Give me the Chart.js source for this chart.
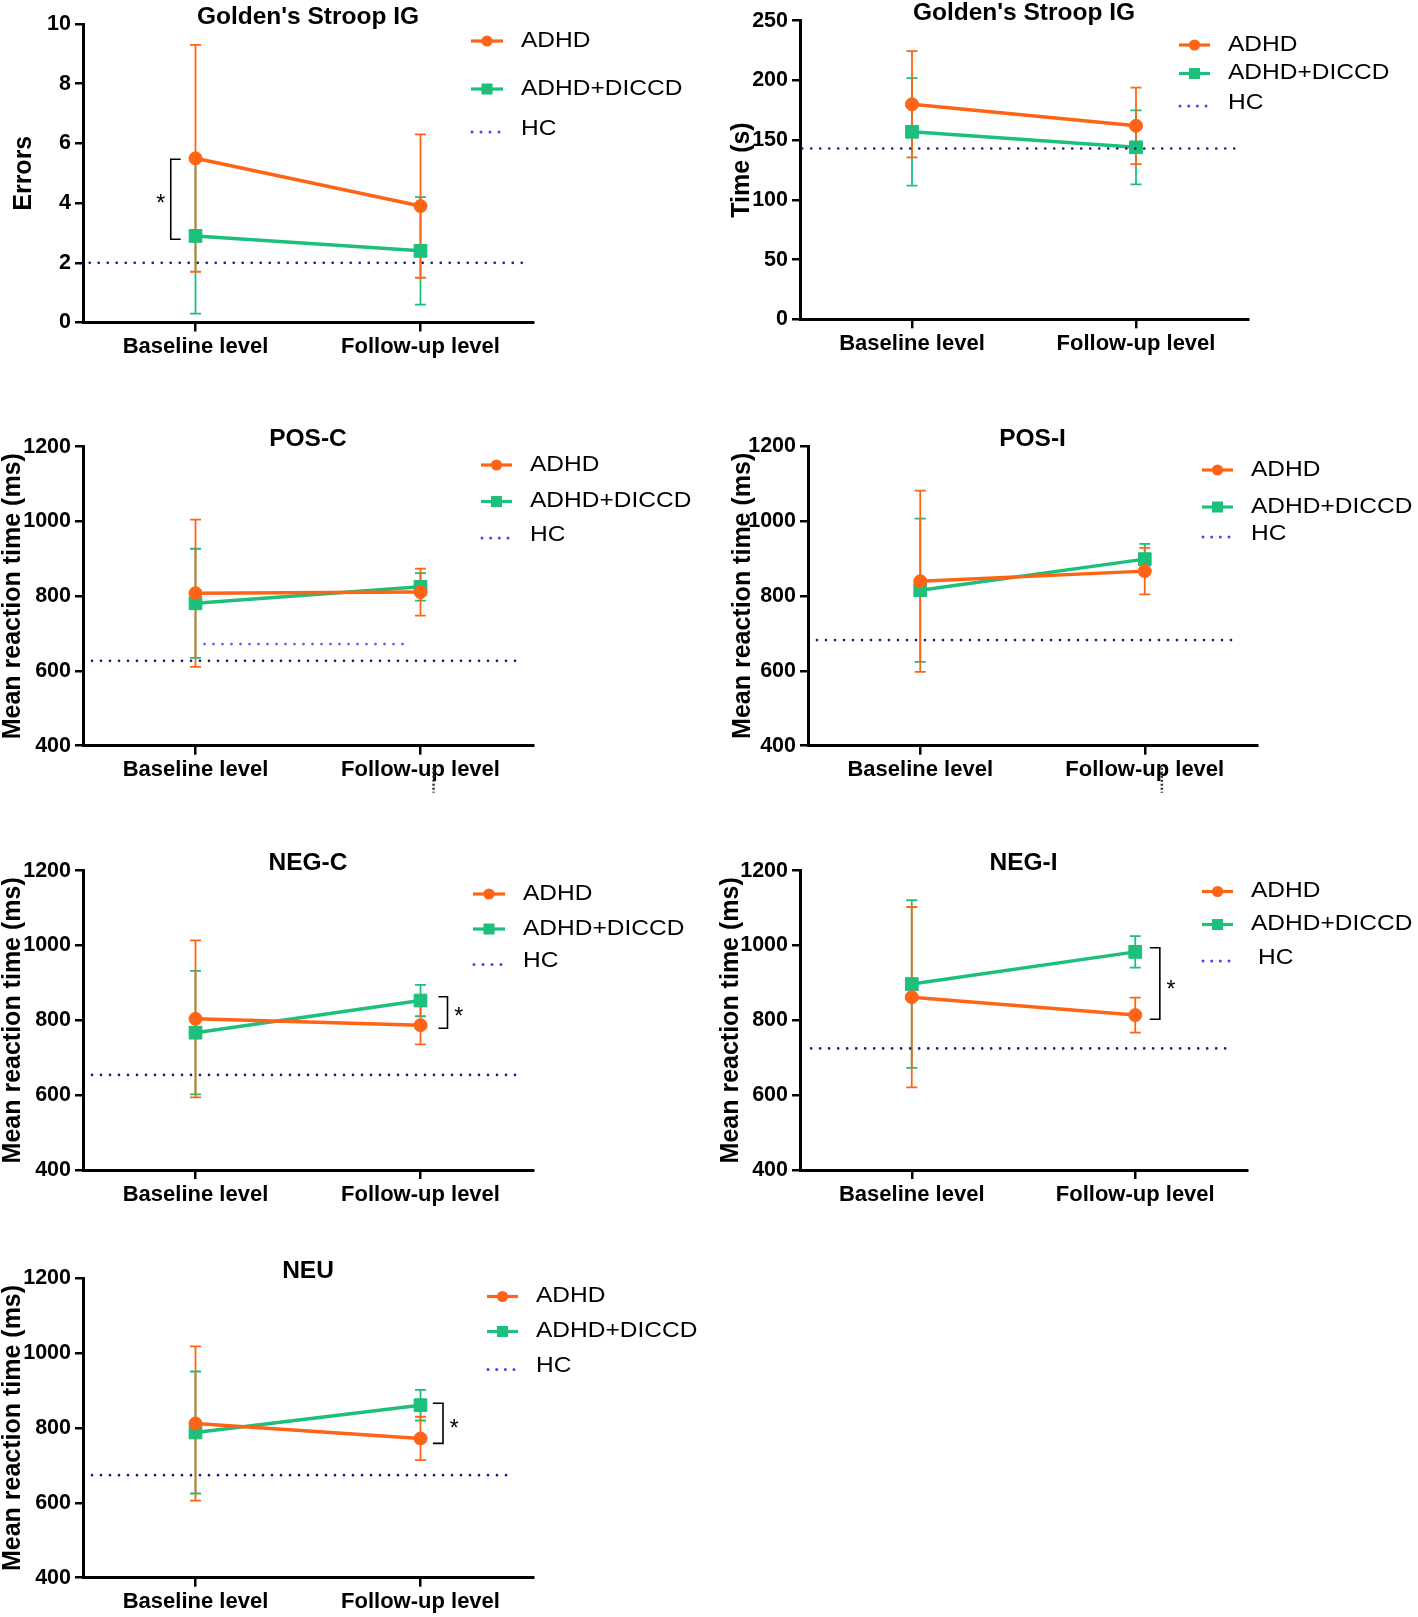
<!DOCTYPE html>
<html>
<head>
<meta charset="utf-8">
<script src="https://cdn.jsdelivr.net/npm/chart.js@4.4.0/dist/chart.umd.min.js"></script>
<style>
  html, body { margin: 0; padding: 0; background: #ffffff; }
  body { width: 1418px; height: 1617px; position: relative; overflow: hidden; }
  .panel { position: absolute; }
  .panel canvas { display: block; }
</style>
</head>
<body>
<div class="panel" id="p1"><canvas></canvas></div>
<div class="panel" id="p2"><canvas></canvas></div>
<div class="panel" id="p3"><canvas></canvas></div>
<div class="panel" id="p4"><canvas></canvas></div>
<div class="panel" id="p5"><canvas></canvas></div>
<div class="panel" id="p6"><canvas></canvas></div>
<div class="panel" id="p7"><canvas></canvas></div>
<script>
// ---------------- DATA ----------------
const xLabels = ['Baseline level', 'Follow-up level'];
const seriesNames = ['ADHD', 'ADHD+DICCD', 'HC'];

// Golden's Stroop IG - Errors
const stroopErrTicks = [0, 2, 4, 6, 8, 10];
const stroopErrADHD = [5.5, 3.9];
const stroopErrADHDsd = [3.8, 2.4];
const stroopErrDICCD = [2.9, 2.4];
const stroopErrDICCDsd = [2.6, 1.8];
const stroopErrHC = 2.0;

// Golden's Stroop IG - Time (s)
const stroopTimeTicks = [0, 50, 100, 150, 200, 250];
const stroopTimeADHD = [180, 162];
const stroopTimeADHDsd = [44.5, 32];
const stroopTimeDICCD = [157, 144];
const stroopTimeDICCDsd = [45, 31];
const stroopTimeHC = 143;

// Mean reaction time ticks (ms)
const rtTicks = [400, 600, 800, 1000, 1200];

// POS-C
const posCADHD = [808, 811];
const posCADHDsd = [197, 63];
const posCDICCD = [781, 825];
const posCDICCDsd = [146, 37];
const posCHC = 627;
const posCHCextra = 672;

// POS-I
const posIADHD = [839, 866];
const posIADHDsd = [242, 62];
const posIDICCD = [815, 898];
const posIDICCDsd = [191, 41];
const posIHC = 682;

// NEG-C
const negCADHD = [804, 787];
const negCADHDsd = [210, 51];
const negCDICCD = [767, 853];
const negCDICCDsd = [165, 42];
const negCHC = 654;

// NEG-I
const negIADHD = [862, 814];
const negIADHDsd = [241, 47];
const negIDICCD = [897, 983];
const negIDICCDsd = [224, 42];
const negIHC = 725;

// NEU
const neuADHD = [812, 772];
const neuADHDsd = [206, 58];
const neuDICCD = [788, 861];
const neuDICCDsd = [163, 41];
const neuHC = 674;

// ---------------- STYLE / LAYOUT ----------------
const FONT = '"Liberation Sans", Arial, Helvetica, sans-serif';
const ORANGE = '#FF6416';
const GREEN = '#1CBF7B';
const NAVY = '#1B1B86';
const HC_LEGEND = '#4646F2';
const LIGHT_BLUE = '#5B5BF2';
const XH = 38;

const panels = [
  { id: 'p1', box: [0, 0, 709, 400], area: [83, 24, 533, 322.5],
    title: "Golden's Stroop IG", yTitle: 'Errors', yTitlePad: 12, yTicks: stroopErrTicks,
    adhd: stroopErrADHD, adhdSd: stroopErrADHDsd, diccd: stroopErrDICCD, diccdSd: stroopErrDICCDsd,
    hc: stroopErrHC, hcSpan: [-0.47, 1.46],
    legend: { lx0: 471, lx1: 503, tx: 521, hcTx: 521, ys: [41, 89, 129] },
    bracket: { x: -0.11, arm: -0.066, y1: 5.47, y2: 2.79, starX: -0.155, starY: 4.13 } },
  { id: 'p2', box: [709, 0, 709, 400], area: [800, 20.7, 1248, 319.3],
    title: "Golden's Stroop IG", yTitle: 'Time (s)', yTitlePad: 20.5, yTicks: stroopTimeTicks,
    adhd: stroopTimeADHD, adhdSd: stroopTimeADHDsd, diccd: stroopTimeDICCD, diccdSd: stroopTimeDICCDsd,
    hc: stroopTimeHC, hcSpan: [-0.49, 1.44],
    legend: { lx0: 1179, lx1: 1210, tx: 1228, hcTx: 1228, ys: [45, 73.5, 103] } },
  { id: 'p3', box: [0, 405, 709, 405], area: [83, 446.7, 533, 745.7],
    title: 'POS-C', yTitle: 'Mean reaction time (ms)', yTitlePad: 0.5, yTicks: rtTicks,
    adhd: posCADHD, adhdSd: posCADHDsd, diccd: posCDICCD, diccdSd: posCDICCDsd,
    hc: posCHC, hcSpan: [-0.46, 1.45], extraHC: posCHCextra, extraSpan: [0.04, 0.96],
    legend: { lx0: 481, lx1: 512, tx: 530, hcTx: 530, ys: [465, 501.5, 535] },
    artifactX: 1.058 },
  { id: 'p4', box: [709, 405, 709, 405], area: [808, 446, 1257, 745.7],
    title: 'POS-I', yTitle: 'Mean reaction time (ms)', yTitlePad: 21.5, yTicks: rtTicks,
    adhd: posIADHD, adhdSd: posIADHDsd, diccd: posIDICCD, diccdSd: posIDICCDsd,
    hc: posIHC, hcSpan: [-0.46, 1.41],
    legend: { lx0: 1202, lx1: 1233, tx: 1251, hcTx: 1251, ys: [470, 507, 534] },
    artifactX: 1.076 },
  { id: 'p5', box: [0, 815, 709, 400], area: [83, 870.7, 533, 1170],
    title: 'NEG-C', yTitle: 'Mean reaction time (ms)', yTitlePad: 0.5, yTicks: rtTicks,
    adhd: negCADHD, adhdSd: negCADHDsd, diccd: negCDICCD, diccdSd: negCDICCDsd,
    hc: negCHC, hcSpan: [-0.46, 1.46],
    legend: { lx0: 473, lx1: 505, tx: 523, hcTx: 523, ys: [894, 929, 961.5] },
    bracket: { x: 1.12, arm: 1.08, y1: 863, y2: 779, starX: 1.17, starY: 820 } },
  { id: 'p6', box: [709, 815, 709, 400], area: [800, 870.7, 1247, 1170],
    title: 'NEG-I', yTitle: 'Mean reaction time (ms)', yTitlePad: 9.5, yTicks: rtTicks,
    adhd: negIADHD, adhdSd: negIADHDsd, diccd: negIDICCD, diccdSd: negIDICCDsd,
    hc: negIHC, hcSpan: [-0.45, 1.44],
    legend: { lx0: 1202, lx1: 1233, tx: 1251, hcTx: 1258, ys: [891.5, 924.5, 958] },
    bracket: { x: 1.11, arm: 1.065, y1: 994, y2: 803, starX: 1.16, starY: 893 } },
  { id: 'p7', box: [0, 1225, 709, 392], area: [83, 1278.3, 533, 1577.7],
    title: 'NEU', yTitle: 'Mean reaction time (ms)', yTitlePad: 1, yTicks: rtTicks,
    adhd: neuADHD, adhdSd: neuADHDsd, diccd: neuDICCD, diccdSd: neuDICCDsd,
    hc: neuHC, hcSpan: [-0.46, 1.40],
    legend: { lx0: 487, lx1: 518, tx: 536, hcTx: 536, ys: [1296.5, 1331.5, 1366.5] },
    bracket: { x: 1.10, arm: 1.055, y1: 866, y2: 759, starX: 1.15, starY: 808 } }
];

const panelById = {};
panels.forEach(p => { panelById[p.id] = p; });

function pts(vals) {
  return xLabels.map((_, i) => ({ x: i, y: vals[i] }));
}

// ---------------- PLUGIN ----------------
const decorPlugin = {
  id: 'decor',
  beforeDatasetsDraw(chart) {
    const ctx = chart.ctx;
    const xs = chart.scales.x, ys = chart.scales.y;
    // error bars (green first, orange on top)
    [1, 0].forEach(i => {
      const d = chart.data.datasets[i];
      ctx.save();
      ctx.strokeStyle = d.borderColor;
      ctx.lineWidth = 1.8;
      d.data.forEach((pt, k) => {
        const px = xs.getPixelForValue(pt.x);
        const top = ys.getPixelForValue(pt.y + d.sd[k]);
        const bot = ys.getPixelForValue(pt.y - d.sd[k]);
        ctx.beginPath();
        ctx.moveTo(px, top); ctx.lineTo(px, bot);
        ctx.moveTo(px - 5.5, top); ctx.lineTo(px + 5.5, top);
        ctx.moveTo(px - 5.5, bot); ctx.lineTo(px + 5.5, bot);
        ctx.stroke();
      });
      ctx.restore();
    });
  },
  afterDraw(chart) {
    const p = panelById[chart.canvas.parentNode.id];
    const ctx = chart.ctx;
    const xs = chart.scales.x, ys = chart.scales.y;
    const ca = chart.chartArea;
    const ox = p.box[0], oy = p.box[1];

    // title
    ctx.save();
    ctx.font = 'bold 24.5px ' + FONT;
    ctx.fillStyle = '#000';
    ctx.textAlign = 'center';
    ctx.textBaseline = 'alphabetic';
    ctx.fillText(p.title, (ca.left + ca.right) / 2, ca.top - 0.5);
    ctx.restore();

    // legend
    const L = p.legend;
    const x0 = L.lx0 - ox, x1 = L.lx1 - ox, xm = (x0 + x1) / 2;
    const colors = [ORANGE, GREEN];
    for (let i = 0; i < 2; i++) {
      const y = L.ys[i] - oy;
      ctx.save();
      ctx.strokeStyle = colors[i];
      ctx.fillStyle = colors[i];
      ctx.lineWidth = 3.2;
      ctx.beginPath(); ctx.moveTo(x0, y); ctx.lineTo(x1, y); ctx.stroke();
      if (i === 0) {
        ctx.beginPath(); ctx.arc(xm, y, 5.6, 0, Math.PI * 2); ctx.fill();
      } else {
        ctx.fillRect(xm - 5.5, y - 5.5, 11, 11);
      }
      ctx.restore();
    }
    // HC legend dots
    ctx.save();
    ctx.fillStyle = HC_LEGEND;
    const hy = L.ys[2] - oy + 3;
    for (let k = 0; k < 4; k++) {
      const dx = x0 + 1 + k * ((x1 - x0 - 5) / 3);
      ctx.beginPath(); ctx.arc(dx, hy, 1.5, 0, Math.PI * 2); ctx.fill();
    }
    ctx.restore();
    // legend text
    for (let i = 0; i < 3; i++) {
      ctx.save();
      ctx.font = '21.5px ' + FONT;
      ctx.fillStyle = '#000';
      ctx.textAlign = 'left';
      ctx.textBaseline = 'middle';
      const tx = (i === 2 ? L.hcTx : L.tx) - ox;
      ctx.translate(tx, L.ys[i] - oy);
      ctx.scale(1.14, 1);
      ctx.fillText(seriesNames[i], 0, 0);
      ctx.restore();
    }

    // significance bracket
    if (p.bracket) {
      const b = p.bracket;
      const bx = xs.getPixelForValue(b.x), ax = xs.getPixelForValue(b.arm);
      const y1 = ys.getPixelForValue(b.y1), y2 = ys.getPixelForValue(b.y2);
      ctx.save();
      ctx.strokeStyle = '#000';
      ctx.lineWidth = 1.6;
      ctx.beginPath();
      ctx.moveTo(ax, y1); ctx.lineTo(bx, y1); ctx.lineTo(bx, y2); ctx.lineTo(ax, y2);
      ctx.stroke();
      ctx.font = '23px ' + FONT;
      ctx.fillStyle = '#000';
      ctx.textAlign = 'center';
      ctx.textBaseline = 'middle';
      ctx.fillText('*', xs.getPixelForValue(b.starX), ys.getPixelForValue(b.starY) + 5);
      ctx.restore();
    }

    // small dotted scan artifact under the follow-up label
    if (p.artifactX !== undefined) {
      const ax = xs.getPixelForValue(p.artifactX);
      ctx.save();
      ctx.strokeStyle = '#333';
      ctx.lineWidth = 2.5;
      ctx.setLineDash([2, 2]);
      ctx.beginPath();
      ctx.moveTo(ax, ca.bottom + 22); ctx.lineTo(ax, ca.bottom + 47);
      ctx.stroke();
      ctx.restore();
    }
  }
};

// ---------------- BUILD ----------------
function buildChart(p) {
  const wrap = document.getElementById(p.id);
  const [bl, bt, bw, bh] = p.box;
  const [al, at, ar, ab] = p.area;
  wrap.style.left = bl + 'px';
  wrap.style.top = bt + 'px';
  wrap.style.width = bw + 'px';
  wrap.style.height = bh + 'px';
  const canvas = wrap.querySelector('canvas');
  canvas.width = bw; canvas.height = bh;
  canvas.style.width = bw + 'px'; canvas.style.height = bh + 'px';

  const datasets = [
    { label: seriesNames[0], data: pts(p.adhd), sd: p.adhdSd,
      borderColor: ORANGE, backgroundColor: ORANGE, borderWidth: 3.5,
      pointStyle: 'circle', pointRadius: 6.5, pointBorderWidth: 1, order: 1 },
    { label: seriesNames[1], data: pts(p.diccd), sd: p.diccdSd,
      borderColor: GREEN, backgroundColor: GREEN, borderWidth: 3.5,
      pointStyle: 'rect', pointRadius: 9, pointBorderWidth: 1, order: 2 },
    { label: seriesNames[2], data: [{ x: p.hcSpan[0], y: p.hc }, { x: p.hcSpan[1], y: p.hc }],
      borderColor: NAVY, borderWidth: 2.7, borderDash: [0, 9], borderCapStyle: 'round',
      pointRadius: 0, order: 0 }
  ];
  if (p.extraHC !== undefined) {
    datasets.push({ label: 'HC', data: [{ x: p.extraSpan[0], y: p.extraHC }, { x: p.extraSpan[1], y: p.extraHC }],
      borderColor: LIGHT_BLUE, borderWidth: 2.7, borderDash: [0, 9], borderCapStyle: 'round',
      pointRadius: 0, order: 0 });
  }

  const tickGrid = (len) => ({ display: true, drawOnChartArea: false, drawTicks: true,
    tickLength: len, color: '#000', lineWidth: 2.5 });

  new Chart(canvas, {
    type: 'line',
    data: { datasets },
    options: {
      responsive: false,
      animation: false,
      devicePixelRatio: 1,
      events: [],
      layout: { padding: { left: 0, top: at - bt, right: bl + bw - ar, bottom: bt + bh - ab - XH } },
      plugins: { legend: { display: false }, title: { display: false }, tooltip: { enabled: false } },
      scales: {
        x: {
          type: 'linear', min: -0.5, max: 1.5,
          afterBuildTicks: s => { s.ticks = xLabels.map((_, i) => ({ value: i })); },
          afterFit: s => { s.height = XH; },
          ticks: { callback: v => (xLabels[v] !== undefined ? xLabels[v] : ''),
            font: { family: FONT, size: 22, weight: 'bold' }, color: '#000', padding: 2.5,
            maxRotation: 0, autoSkip: false },
          grid: tickGrid(9),
          border: { display: true, color: '#000', width: 3 }
        },
        y: {
          type: 'linear', min: p.yTicks[0], max: p.yTicks[p.yTicks.length - 1],
          afterBuildTicks: s => { s.ticks = p.yTicks.map(v => ({ value: v })); },
          afterFit: s => { s.width = al - bl; },
          ticks: { callback: v => String(v),
            font: { family: FONT, size: 21.5, weight: 'bold' }, color: '#000', padding: 4 },
          grid: tickGrid(8),
          border: { display: true, color: '#000', width: 3 },
          title: { display: true, text: p.yTitle, color: '#000',
            font: { family: FONT, size: 25, weight: 'bold', lineHeight: 1 },
            padding: { top: p.yTitlePad, bottom: 0 } }
        }
      }
    },
    plugins: [decorPlugin]
  });
}

panels.forEach(buildChart);
</script>
</body>
</html>
